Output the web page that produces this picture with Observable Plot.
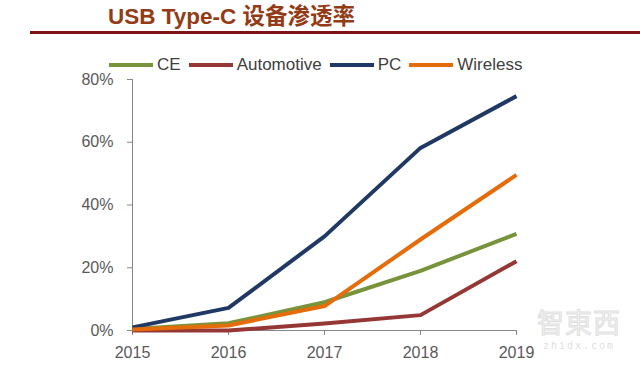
<!DOCTYPE html>
<html>
<head>
<meta charset="utf-8">
<script src="https://cdn.jsdelivr.net/npm/d3@7"></script>
<script src="https://cdn.jsdelivr.net/npm/@observablehq/plot@0.6"></script>
<style>
  html, body { margin: 0; padding: 0; background: #fff; }
  #wrap { position: relative; width: 640px; height: 366px; overflow: hidden; background: #fff; }
  #title { position: absolute; left: 108px; top: 3px; font-family: "Liberation Sans", "Noto Sans CJK SC", sans-serif; font-weight: bold; font-size: 22.5px; line-height: 28px; color: #933B16; white-space: nowrap; }
  #rule { position: absolute; left: 30px; right: 0; top: 31px; height: 3px; background: #7E1416; }
  #legend { position: absolute; left: 109px; top: 55px; display: flex; align-items: center; font-family: "Liberation Sans", sans-serif; font-size: 17px; color: #404040; white-space: nowrap; }
  .item { display: flex; align-items: center; margin-right: 8px; }
  .sw { width: 44px; height: 4px; margin-right: 4px; }
  #wm { position: absolute; left: 537px; top: 308px; font-family: "Noto Sans CJK TC", sans-serif; text-align: center; line-height: 1; }
  #wm .big { font-size: 27px; letter-spacing: 1px; color: #f4f4f4; -webkit-text-stroke: 1px #e0e0e0; }
  #wm .small { font-family: "DejaVu Sans Mono", monospace; font-size: 10px; letter-spacing: 2px; color: #e0e0e0; margin-top: 6px; }
  #plot { position: absolute; left: 0; top: 0; }
</style>
</head>
<body>
<div id="wrap">
  <div id="plot"></div>
  <div id="title">USB Type-C 设备渗透率</div>
  <div id="rule"></div>
  <div id="legend"></div>
  <div id="wm"><div class="big">智東西</div><div class="small">zhidx.com</div></div>
</div>
<script>
const years = [2015, 2016, 2017, 2018, 2019];
const seriesNames = ["CE", "Automotive", "PC", "Wireless"];
const ce = [0.5, 2.3, 9, 19, 30.8];
const automotive = [0, 0, 2.2, 4.9, 22.1];
const pc = [1, 7.2, 30, 58.2, 74.7];
const wireless = [0.3, 1.6, 7.8, 29, 49.6];
const yTicks = [0, 20, 40, 60, 80];
const colors = ["#77933C", "#953735", "#1F3864", "#E46C0A"];

const values = [ce, automotive, pc, wireless];
const rows = [];
seriesNames.forEach((s, i) => years.forEach((y, j) => rows.push({series: s, year: y, value: values[i][j]})));

const legend = document.getElementById("legend");
seriesNames.forEach((s, i) => {
  const it = document.createElement("div");
  it.className = "item";
  it.innerHTML = `<div class="sw" style="background:${colors[i]}"></div><span>${s}</span>`;
  legend.appendChild(it);
});

const chart = Plot.plot({
  width: 640,
  height: 366,
  marginTop: 79,
  marginBottom: 36,
  marginLeft: 132,
  marginRight: 124,
  style: { fontFamily: "Liberation Sans, sans-serif", fontSize: "16px", background: "transparent", color: "#595959" },
  x: { domain: [2015, 2019] },
  y: { domain: [0, 80] },
  color: { domain: seriesNames, range: colors },
  marks: [
    Plot.axisY({ ticks: yTicks, tickFormat: d => d + "%", tickSize: 5, tickPadding: 14, label: null, stroke: "#868686", fill: "#595959" }),
    Plot.axisX({ ticks: years, tickFormat: d => String(d), tickSize: 5, tickPadding: 11, label: null, stroke: "#868686", fill: "#595959" }),
    Plot.ruleX([2015], { y1: 0, y2: 80, stroke: "#868686" }),
    Plot.ruleY([0], { x1: 2015, x2: 2019, stroke: "#868686" }),
    Plot.line(rows, { x: "year", y: "value", z: "series", stroke: "series", strokeWidth: 4, strokeLinejoin: "round", strokeLinecap: "butt" })
  ]
});
document.getElementById("plot").appendChild(chart);
</script>
</body>
</html>
